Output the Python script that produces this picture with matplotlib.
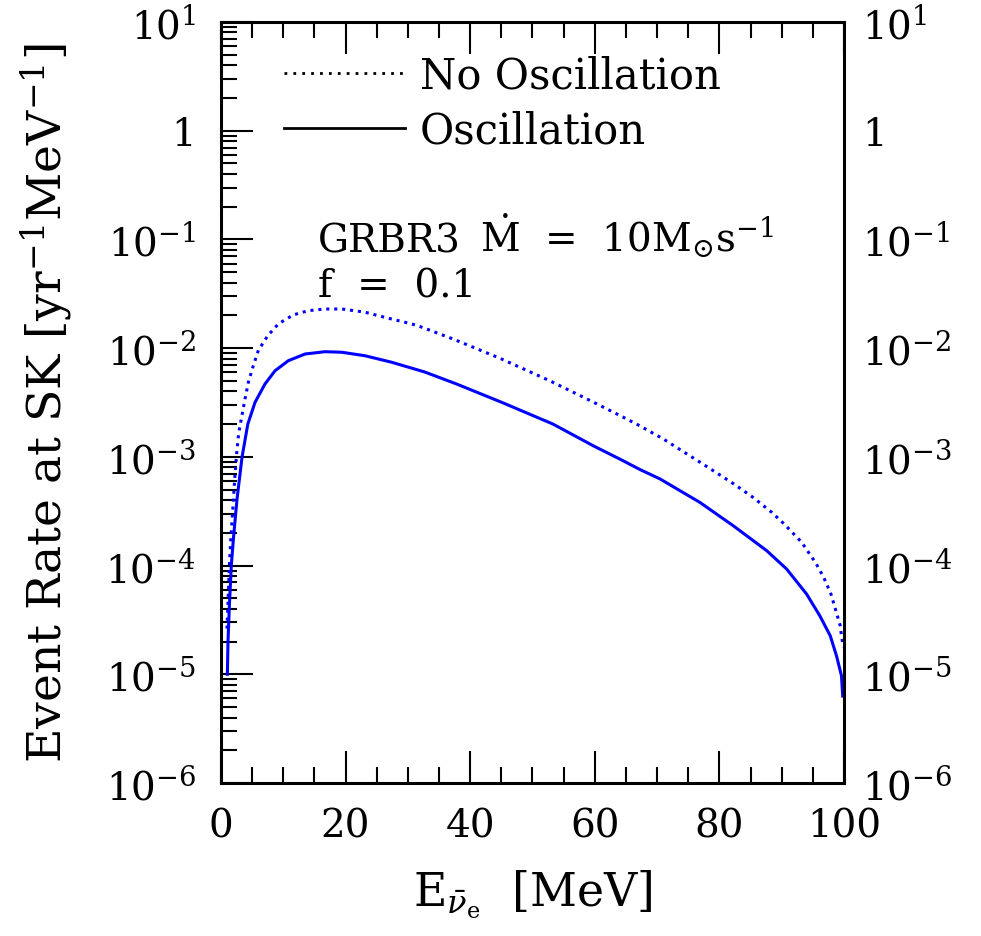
import matplotlib
matplotlib.use("Agg")
import matplotlib.pyplot as plt
from matplotlib.lines import Line2D
from matplotlib.ticker import FixedLocator, FixedFormatter, MultipleLocator, LogLocator, NullFormatter

plt.rcParams['font.family'] = ['DejaVu Serif']
plt.rcParams['mathtext.fontset'] = 'dejavuserif'

# energy [MeV] and event rate [yr^-1 MeV^-1]
e_osc = [1.02, 1.12, 1.34, 1.65, 2.03, 2.57, 3.37, 4.3, 5.46, 7.06,
         8.67, 10.8, 13.5, 16.7, 19.4, 23.1, 27.4, 32.7, 37.8, 45.3,
         53.3, 59.8, 64.0, 67.3, 70.5, 76.9, 82.2, 87.6, 90.8, 94.0,
         96.1, 97.8, 98.8, 99.6, 99.8]
rate_osc = [1.0e-5, 2.0e-5, 4.27e-5, 1.0e-4, 1.88e-4, 4.09e-4, 9.9e-4, 2.0e-3, 3.17e-3, 4.68e-3,
            6.19e-3, 7.66e-3, 8.83e-3, 9.27e-3, 9.16e-3, 8.51e-3, 7.41e-3, 6.03e-3, 4.68e-3, 3.13e-3,
            2.0e-3, 1.26e-3, 9.55e-4, 7.62e-4, 6.25e-4, 3.8e-4, 2.33e-4, 1.37e-4, 9.29e-5, 5.47e-5,
            3.47e-5, 2.26e-5, 1.48e-5, 9.7e-6, 6.3e-6]

e_noosc = [0.96, 1.12, 1.34, 1.6, 1.93, 2.2, 2.46, 2.84, 3.85, 4.39,
           5.19, 6.0, 7.5, 9.2, 11.6, 14.0, 16.7, 19.4, 23.1, 26.9,
           30.6, 32.2, 37.3, 44.8, 52.8, 59.8, 64.6, 67.0, 71.0, 78.0,
           82.2, 85.4, 88.4, 90.5, 93.2, 95.5, 96.8, 97.9, 98.7, 99.4,
           99.6, 99.9]
rate_noosc = [2.63e-5, 4.57e-5, 1.0e-4, 1.88e-4, 3.55e-4, 6.31e-4, 1.0e-3, 1.66e-3, 3.4e-3, 4.85e-3,
              6.92e-3, 9.55e-3, 1.3e-2, 1.67e-2, 2.02e-2, 2.21e-2, 2.29e-2, 2.29e-2, 2.14e-2, 1.88e-2,
              1.67e-2, 1.56e-2, 1.21e-2, 8.05e-3, 5.0e-3, 3.18e-3, 2.31e-3, 1.96e-3, 1.46e-3, 8.13e-4,
              5.69e-4, 4.24e-4, 3.09e-4, 2.38e-4, 1.64e-4, 1.05e-4, 7.67e-5, 5.5e-5, 3.85e-5, 2.8e-5,
              2.26e-5, 1.78e-5]

x_ticks = [0, 20, 40, 60, 80, 100]
x_ticklabels = ['0', '20', '40', '60', '80', '100']
y_ticks = [1e1, 1e0, 1e-1, 1e-2, 1e-3, 1e-4, 1e-5, 1e-6]
y_ticklabels = ['10$^{1}$', '1', '10$^{-1}$', '10$^{-2}$', '10$^{-3}$',
                '10$^{-4}$', '10$^{-5}$', '10$^{-6}$']

fig = plt.figure(figsize=(9.81, 9.37), dpi=100)
ax = fig.add_axes([0.2253, 0.1633, 0.635, 0.8122])

ax.plot(e_noosc, rate_noosc, color='blue', lw=2.2, ls=(0, (1, 1.6)))
ax.plot(e_osc, rate_osc, color='blue', lw=2.2, solid_joinstyle='round')

ax.set_yscale('log')
ax.set_xlim(0, 100)
ax.set_ylim(1e-6, 1e1)

ax.xaxis.set_major_locator(FixedLocator(x_ticks))
ax.xaxis.set_major_formatter(FixedFormatter(x_ticklabels))
ax.xaxis.set_minor_locator(MultipleLocator(5))
ax.yaxis.set_major_locator(FixedLocator(y_ticks))
ax.yaxis.set_major_formatter(FixedFormatter(y_ticklabels))
ax.yaxis.set_minor_locator(LogLocator(base=10, subs=range(2, 10), numticks=20))
ax.yaxis.set_minor_formatter(NullFormatter())

for s in ax.spines.values():
    s.set_linewidth(2.2)
ax.tick_params(which='both', direction='in', top=True, right=True, width=1.5)
ax.tick_params(which='major', length=23, labelsize=28)
ax.tick_params(which='minor', length=11.5)
ax.tick_params(axis='x', which='major', pad=18)
ax.tick_params(axis='y', which='major', pad=18)

# right-hand labels
ax2 = ax.twinx()
ax2.set_yscale('log')
ax2.set_ylim(1e-6, 1e1)
ax2.yaxis.set_major_locator(FixedLocator(y_ticks))
ax2.yaxis.set_major_formatter(FixedFormatter(y_ticklabels))
ax2.yaxis.set_minor_formatter(NullFormatter())
ax2.tick_params(which='both', length=0, labelsize=28, pad=13)
for s in ax2.spines.values():
    s.set_visible(False)

ax.set_xlabel(r'E$_{\bar{\nu}_{\rm e}}$  [MeV]', fontsize=33, labelpad=16)
ax.set_ylabel(r'Event Rate at SK [yr$^{-1}$MeV$^{-1}$]', fontsize=34, labelpad=22)

handles = [Line2D([], [], color='black', lw=2.0, ls=(0, (1, 2.2))),
           Line2D([], [], color='black', lw=2.0)]
ax.legend(handles, ['No Oscillation', 'Oscillation'], loc='upper left',
          bbox_to_anchor=(0.101, 0.957), frameon=False, fontsize=30,
          handlelength=2.9, handletextpad=0.36, labelspacing=0.3,
          borderpad=0, borderaxespad=0)

ax.text(0.156, 0.699, 'GRBR3', transform=ax.transAxes, fontsize=28, va='baseline')
ax.text(0.416, 0.699, r'$\dot{\rm M}$  =  10M$_{\odot}$s$^{-1}$',
        transform=ax.transAxes, fontsize=28, va='baseline')
ax.text(0.156, 0.639, 'f  =  0.1', transform=ax.transAxes, fontsize=28, va='baseline')

fig.savefig('out.png', dpi=100)
